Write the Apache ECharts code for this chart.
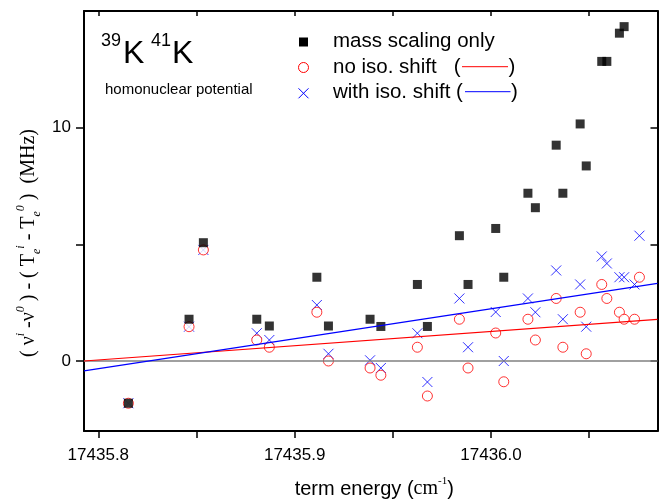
<!DOCTYPE html>
<html>
<head>
<title>39K41K term energy residuals</title>
<meta charset="UTF-8">
<script src="https://cdn.jsdelivr.net/npm/echarts@6/dist/echarts.min.js"></script>
<style>
html, body { margin: 0; padding: 0; background: #fff; }
#chart-container { width: 667px; height: 504px; }
</style>
</head>
<body>
<div id="chart-container"></div>

<script>
// 数据 (term energy in cm-1, residuals in MHz)
var termEnergy = [
  17435.8153, 17435.8462, 17435.8535, 17435.8807, 17435.8871, 17435.9113, 17435.9172,
  17435.9384, 17435.9439, 17435.9625, 17435.9676, 17435.9839, 17435.9883, 17436.0024,
  17436.0065, 17436.0188, 17436.0226, 17436.0332, 17436.0366, 17436.0454, 17436.0485,
  17436.0564, 17436.0590, 17436.0654, 17436.0678, 17436.0731, 17436.0756
];
// last two points of this series are above the frame
var massScalingOnly = [
  -1.81, 1.79, 5.07, 1.79, 1.50, 3.59, 1.50,
  1.79, 1.48, 3.28, 1.48, 5.37, 3.28, 5.68,
  3.59, 7.19, 6.57, 9.25, 7.19, 10.16, 8.36,
  12.84, 12.84, 14.05, 14.33, null, null
];
var noIsoShift = [
  -1.81, 1.47, 4.76, 0.90, 0.59, 2.09, 0.00,
  -0.30, -0.61, 0.59, -1.50, 1.79, -0.30, 1.20,
  -0.89, 1.79, 0.90, 2.68, 0.59, 2.09, 0.31,
  3.28, 2.68, 2.09, 1.79, 1.79, 3.59
];
var withIsoShift = [
  -1.81, 1.47, 4.76, 1.19, 0.90, 2.40, 0.31,
  0.03, -0.30, 1.19, -0.90, 2.68, 0.59, 2.10,
  0.00, 2.68, 2.09, 3.88, 1.79, 3.28, 1.47,
  4.48, 4.18, 3.59, 3.59, 3.28, 5.37
];

// fitted lines, given at the two ends of the x range
var fitEnds = [17435.7927, 17436.0848];
var noIsoShiftFit = [0.0, 1.78];
var withIsoShiftFit = [-0.42, 3.33];

// ticks
var xTickValues = [17435.8, 17435.85, 17435.9, 17435.95, 17436.0, 17436.05];
var xLabelValues = [17435.8, 17435.9, 17436.0];
var yTickValues = [0, 5, 10];
var yLabelValues = [0, 10];

var xMin = fitEnds[0];
var xMax = fitEnds[1];
var yMin = -3;
var yMax = 15;

function pairs(xs, ys) {
  var out = [];
  for (var i = 0; i < xs.length; i++) {
    if (ys[i] !== null) out.push([xs[i], ys[i]]);
  }
  return out;
}

var sans = 'Liberation Sans, Arial, sans-serif';
var serif = 'Liberation Serif, Times New Roman, serif';
var crossPath = 'path://M0,0L10,10M0,10L10,0';

var myChart = echarts.init(document.getElementById('chart-container'), null, { renderer: 'canvas' });

var axisLine = { show: true, onZero: false, lineStyle: { color: '#000', width: 2 } };

var option = {
  animation: false,
  backgroundColor: '#fff',
  grid: { left: 84, right: 9.5, top: 11, bottom: 70, containLabel: false },
  xAxis: [{
    type: 'value',
    position: 'bottom',
    min: xMin,
    max: xMax,
    axisLine: axisLine,
    axisTick: { show: true, inside: false, length: 7, customValues: xTickValues, lineStyle: { color: '#000', width: 1.5 } },
    axisLabel: {
      customValues: xLabelValues,
      margin: 16,
      fontSize: 17,
      fontFamily: sans,
      color: '#000',
      formatter: function (v) { return v.toFixed(1); }
    },
    splitLine: { show: false },
    name: '{a|term energy (}{b|cm}{c|-1}{a|)}',
    nameLocation: 'middle',
    nameGap: 45,
    nameTextStyle: {
      padding: [0, 0, 0, 7],
      rich: {
        a: { fontSize: 20, fontFamily: sans, color: '#000', lineHeight: 26 },
        b: { fontSize: 20, fontFamily: serif, color: '#000', lineHeight: 26 },
        c: { fontSize: 11, fontFamily: serif, color: '#000', verticalAlign: 'top', lineHeight: 14 }
      }
    }
  }, {
    type: 'value',
    position: 'top',
    min: xMin,
    max: xMax,
    axisLine: axisLine,
    axisTick: { show: true, inside: true, length: 5, customValues: xTickValues, lineStyle: { color: '#000', width: 1.5 } },
    axisLabel: { show: false },
    splitLine: { show: false }
  }],
  yAxis: [{
    type: 'value',
    position: 'left',
    min: yMin,
    max: yMax,
    axisLine: axisLine,
    axisTick: { show: true, inside: false, length: 8, customValues: yTickValues, lineStyle: { color: '#000', width: 1.5 } },
    axisLabel: {
      customValues: yLabelValues,
      margin: 13,
      fontSize: 17,
      fontFamily: sans,
      color: '#000'
    },
    splitLine: { show: false }
  }, {
    type: 'value',
    position: 'right',
    min: yMin,
    max: yMax,
    axisLine: axisLine,
    axisTick: { show: true, inside: true, length: 7, customValues: yTickValues, lineStyle: { color: '#000', width: 1.5 } },
    axisLabel: { show: false },
    splitLine: { show: false }
  }],
  series: [{
    // zero line
    type: 'line',
    silent: true,
    symbol: 'none',
    data: [[xMin, 0], [xMax, 0]],
    lineStyle: { color: '#808080', width: 1.5 }
  }, {
    type: 'line',
    silent: true,
    symbol: 'none',
    data: pairs(fitEnds, noIsoShiftFit),
    lineStyle: { color: '#ff0000', width: 1.2 }
  }, {
    type: 'line',
    silent: true,
    symbol: 'none',
    data: pairs(fitEnds, withIsoShiftFit),
    lineStyle: { color: '#0000ff', width: 1.2 }
  }, {
    name: 'with iso. shift',
    type: 'scatter',
    silent: true,
    symbol: crossPath,
    symbolSize: 10,
    data: pairs(termEnergy, withIsoShift),
    itemStyle: { color: 'rgba(0,0,0,0)', borderColor: '#0000ff', borderWidth: 1 }
  }, {
    name: 'no iso. shift',
    type: 'scatter',
    silent: true,
    symbol: 'circle',
    symbolSize: 10,
    data: pairs(termEnergy, noIsoShift),
    itemStyle: { color: '#fff', borderColor: '#ff0000', borderWidth: 1 }
  }, {
    name: 'mass scaling only',
    type: 'scatter',
    silent: true,
    symbol: 'rect',
    symbolSize: 9,
    data: pairs(termEnergy, massScalingOnly),
    itemStyle: { color: '#000' }
  }],
  graphic: [
    // y axis title
    {
      type: 'text',
      x: 29,
      y: 243,
      rotation: Math.PI / 2,
      silent: true,
      style: {
        text: '{n|( ν}{sup|i}{n| -ν}{sup|0}{n| ) - ( T}{sub|e}{sup|i}{n| - T}{sub|e}{sup|0}{n| )  (MHz)}',
        align: 'center',
        verticalAlign: 'middle',
        rich: {
          n: { fontSize: 20, fontFamily: serif, fill: '#000', lineHeight: 28 },
          sup: { fontSize: 12, fontFamily: serif, fontStyle: 'italic', fill: '#000', verticalAlign: 'top', lineHeight: 14 },
          sub: { fontSize: 12, fontFamily: serif, fontStyle: 'italic', fill: '#000', verticalAlign: 'bottom', lineHeight: 14 }
        }
      }
    },

    // 39K 41K
    { type: 'text', left: 101, top: 32, silent: true, style: { text: '39', font: '18px ' + sans, fill: '#000' } },
    { type: 'text', left: 123, top: 38, silent: true, style: { text: 'K', font: '32px ' + sans, fill: '#000' } },
    { type: 'text', left: 151, top: 32, silent: true, style: { text: '41', font: '18px ' + sans, fill: '#000' } },
    { type: 'text', left: 172, top: 38, silent: true, style: { text: 'K', font: '32px ' + sans, fill: '#000' } },
    { type: 'text', left: 105, top: 82, silent: true, style: { text: 'homonuclear potential', font: '15px ' + sans, fill: '#000' } },

    // legend
    { type: 'rect', silent: true, shape: { x: 299, y: 37.5, width: 9, height: 9 }, style: { fill: '#000' } },
    { type: 'circle', silent: true, shape: { cx: 303.5, cy: 67.5, r: 5 }, style: { fill: '#fff', stroke: '#ff0000', lineWidth: 1 } },
    { type: 'line', silent: true, shape: { x1: 298.5, y1: 88.3, x2: 308.5, y2: 98.3 }, style: { stroke: '#0000ff', lineWidth: 1 } },
    { type: 'line', silent: true, shape: { x1: 298.5, y1: 98.3, x2: 308.5, y2: 88.3 }, style: { stroke: '#0000ff', lineWidth: 1 } },
    { type: 'text', left: 333, top: 31, silent: true, style: { text: 'mass scaling only', font: '20.5px ' + sans, fill: '#000' } },
    { type: 'text', left: 333, top: 56.5, silent: true, style: { text: 'no iso. shift   (', font: '20.5px ' + sans, fill: '#000' } },
    { type: 'line', silent: true, shape: { x1: 462, y1: 66.7, x2: 508, y2: 66.7 }, style: { stroke: '#ff0000', lineWidth: 1 } },
    { type: 'text', left: 508.5, top: 56.5, silent: true, style: { text: ')', font: '20.5px ' + sans, fill: '#000' } },
    { type: 'text', left: 333, top: 82, silent: true, style: { text: 'with iso. shift (', font: '20.5px ' + sans, fill: '#000' } },
    { type: 'line', silent: true, shape: { x1: 465, y1: 91.7, x2: 510.5, y2: 91.7 }, style: { stroke: '#0000ff', lineWidth: 1 } },
    { type: 'text', left: 511, top: 82, silent: true, style: { text: ')', font: '20.5px ' + sans, fill: '#000' } }
  ]
};

myChart.setOption(option);
</script>
</body>
</html>
